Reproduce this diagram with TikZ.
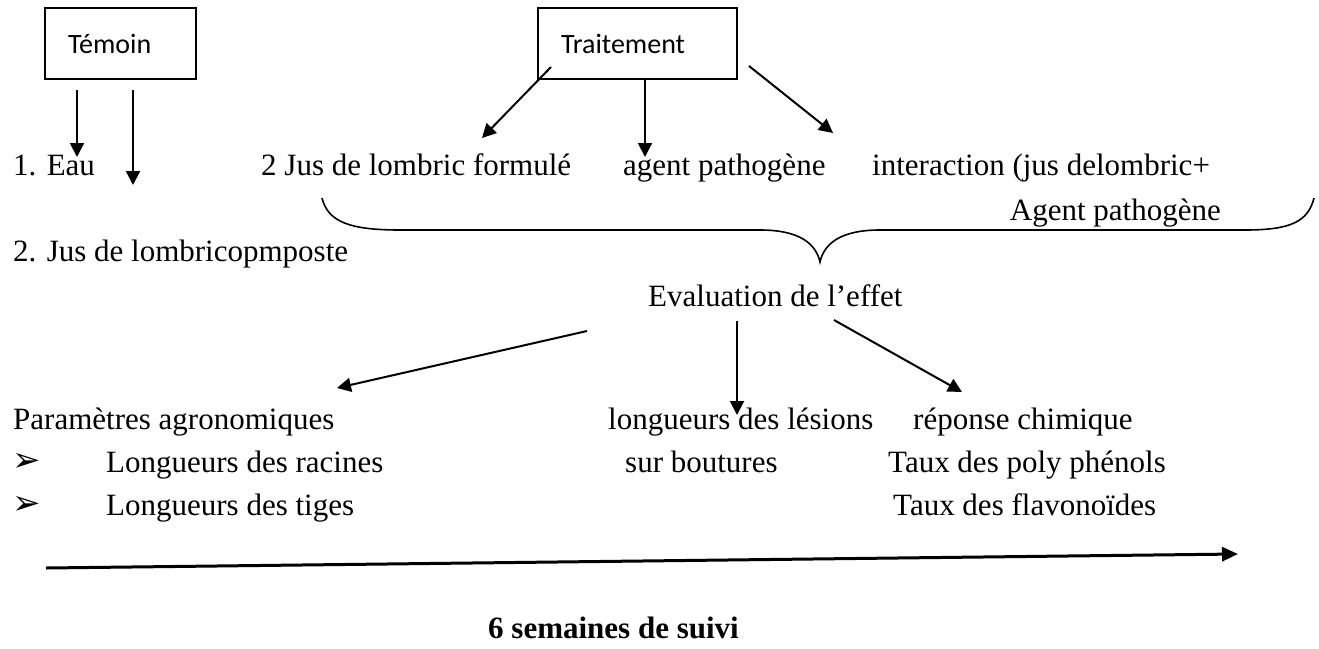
\documentclass[tikz,border=0pt]{standalone}
\usepackage{fontspec}
\setmainfont{Liberation Serif}
\newfontfamily\boxfont{Carlito}
\newfontfamily\symfont{DejaVu Sans}
\usetikzlibrary{arrows.meta}

\tikzset{
  lbl/.style={anchor=base west, inner sep=0pt, font=\fontsize{31}{37}\selectfont},
  frame/.style={draw, line width=1.5pt, inner xsep=23pt, minimum height=71pt,
    align=left, font=\boxfont\fontsize{28}{34}\selectfont},
  arr/.style={line width=2pt, -{Triangle[length=14pt, width=14pt]}},
}

\begin{document}
\begin{tikzpicture}[x=1pt, y=-1pt]
  \useasboundingbox (0,0) rectangle (1319,648);
  % Draw the two boxes
  \node[frame, text width=105pt] (temoin) at (120.5,43.5) {Témoin};
  \node[frame, text width=153pt] (trait) at (637.5,43.5) {Traitement};
  % Place the texts
  \node[lbl] (eau) at (13,175) {1. Eau};
  \node[lbl] (jusf) at (261,175) {2 Jus de lombric formulé};
  \node[lbl] (agent) at (623,175) {agent pathogène};
  \node[lbl] (inter) at (872,175) {interaction (jus delombric+};
  \node[lbl, anchor=base east] (agent2) at (1221,220) {Agent pathogène};
  \node[lbl] (jusc) at (13,261) {2. Jus de lombricopmposte};
  \node[lbl] (eval) at (648,306) {Evaluation de l’effet};
  \node[lbl] (param) at (13,429) {Paramètres agronomiques};
  \node[lbl] (lesion) at (608,429) {longueurs des lésions};
  \node[lbl] (chim) at (913,429) {réponse chimique};
  \node[lbl] (bul1) at (12,471) {\symfont\fontsize{34}{40}\selectfont ➢};
  \node[lbl] (racine) at (106,472) {Longueurs des racines};
  \node[lbl] (bout) at (625,472) {sur boutures};
  \node[lbl] (poly) at (888,472) {Taux des poly phénols};
  \node[lbl] (bul2) at (12,514) {\symfont\fontsize{34}{40}\selectfont ➢};
  \node[lbl] (tige) at (106,515) {Longueurs des tiges};
  \node[lbl] (flavo) at (893,515) {Taux des flavonoïdes};
  \node[lbl, font=\fontsize{31}{37}\selectfont\bfseries] (suivi) at (488,638) {6 semaines de suivi};
  % Arrow ends
  \coordinate (ta) at (77,90);   \coordinate (tb) at (77,157);
  \coordinate (tc) at (133,90);  \coordinate (td) at (133,185);
  \coordinate (ra) at (551,67);  \coordinate (rb) at (482,138);
  \coordinate (rm) at (645,157);
  \coordinate (rc) at (749,66);  \coordinate (rd) at (833,133);
  \coordinate (va) at (587,331); \coordinate (vb) at (337,388);
  \coordinate (vm) at (737,321); \coordinate (vn) at (737,415);
  \coordinate (vc) at (834,320); \coordinate (vd) at (962,392);
  \coordinate (la) at (46,568);  \coordinate (lb) at (1238,554);
  % Draw arrows from Temoin
  \draw[arr] (ta) -- (tb);
  \draw[arr] (tc) -- (td);
  % Draw arrows from Traitement
  \draw[arr] (ra) -- (rb);
  \draw[arr] (trait.south -| rm) -- (rm);
  \draw[arr] (rc) -- (rd);
  % Draw the brace
  \coordinate (bl) at (322,198); \coordinate (br) at (1314,198);
  \coordinate (btip) at (820,262);
  \draw[line width=1.6pt] (bl) .. controls (328,222) and (350,230) .. (400,230)
    -- (760,230) .. controls (800,230) and (816,244) .. (btip)
    .. controls (824,244) and (840,230) .. (880,230)
    -- (1245,230) .. controls (1290,230) and (1308,222) .. (br);
  % Draw arrows from Evaluation
  \draw[arr] (va) -- (vb);
  \draw[arr] (vm) -- (vn);
  \draw[arr] (vc) -- (vd);
  % Draw time arrow
  \draw[line width=3pt, -{Triangle[length=16pt, width=14pt]}] (la) -- (lb);
\end{tikzpicture}
\end{document}
